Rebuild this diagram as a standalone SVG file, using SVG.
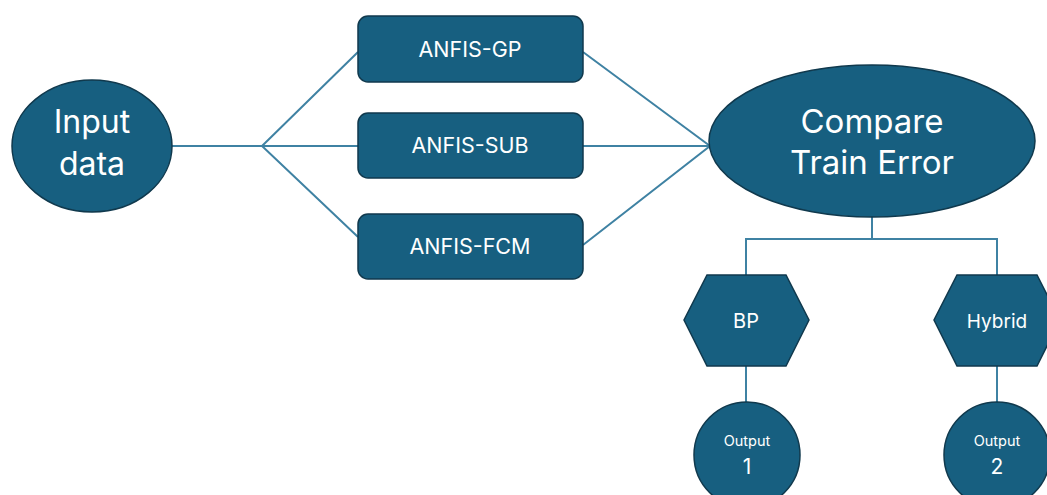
<svg xmlns="http://www.w3.org/2000/svg" width="1047" height="495" viewBox="0 0 1047 495">
<style>
.n{fill:#175f80;stroke:#10394d;stroke-width:1.5}
.t{fill:#ffffff;font-family:Inter,"Open Sans","Liberation Sans",sans-serif;text-anchor:middle;dominant-baseline:central}
.c{fill:none;stroke:#3f82a3;stroke-width:2}
</style>
<rect width="1047" height="495" fill="#ffffff"/>
<g id="connectors">
<polyline class="c" points="172,146 262,146"/>
<polyline class="c" points="358,52 262,146 358,237"/>
<line class="c" x1="262" y1="146" x2="358" y2="146"/>
<polyline class="c" points="583,52 710,146 583,245"/>
<line class="c" x1="583" y1="146" x2="710" y2="146"/>
<polyline class="c" points="872,216 872,239"/>
<polyline class="c" points="746,276 746,239 997,239 997,276"/>
<line class="c" x1="746" y1="366" x2="746" y2="402"/>
<line class="c" x1="997" y1="366" x2="997" y2="402"/>
</g>
<g id="input">
<ellipse class="n" cx="92" cy="146" rx="80" ry="66"/>
<text class="t" x="92" y="121" font-size="32">Input</text>
<text class="t" x="92" y="163" font-size="32">data</text>
</g>
<g id="gp">
<rect class="n" x="358" y="16" width="225" height="66" rx="10"/>
<text class="t" x="470" y="49" font-size="21.5">ANFIS-GP</text>
</g>
<g id="sub">
<rect class="n" x="358" y="113" width="225" height="65" rx="10"/>
<text class="t" x="470" y="145" font-size="21.5">ANFIS-SUB</text>
</g>
<g id="fcm">
<rect class="n" x="358" y="214" width="225" height="65" rx="10"/>
<text class="t" x="470" y="246" font-size="21.5">ANFIS-FCM</text>
</g>
<g id="compare">
<ellipse class="n" cx="872" cy="141" rx="163" ry="76"/>
<text class="t" x="872" y="121" font-size="33">Compare</text>
<text class="t" x="872" y="162" font-size="33">Train Error</text>
</g>
<g id="bp">
<polygon class="n" points="707,275 786,275 809,320 786,366 707,366 684,320"/>
<text class="t" x="746" y="321" font-size="20">BP</text>
</g>
<g id="hybrid">
<polygon class="n" points="957,275 1037,275 1060,320 1037,366 957,366 934,320"/>
<text class="t" x="997" y="321" font-size="19">Hybrid</text>
</g>
<g id="out1">
<ellipse class="n" cx="747" cy="455" rx="53" ry="53"/>
<text class="t" x="747" y="440" font-size="14.5">Output</text>
<text class="t" x="747" y="466" font-size="21">1</text>
</g>
<g id="out2">
<ellipse class="n" cx="997" cy="455" rx="53" ry="53"/>
<text class="t" x="997" y="440" font-size="14.5">Output</text>
<text class="t" x="997" y="466" font-size="21">2</text>
</g>
</svg>
